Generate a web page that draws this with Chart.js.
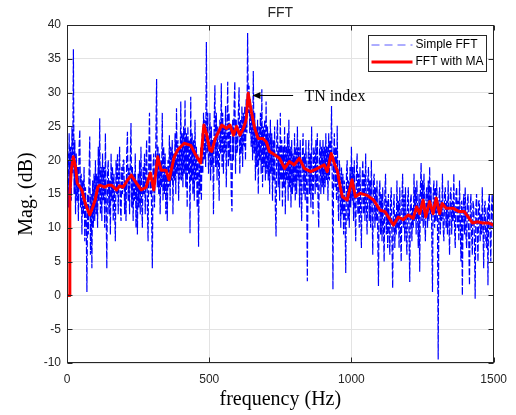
<!DOCTYPE html>
<html>
<head>
<meta charset="utf-8">
<title>FFT</title>
<script src="https://cdn.jsdelivr.net/npm/chart.js@4.4.1/dist/chart.umd.min.js"></script>
<style>
  body { margin: 0; background: #fff; }
  #wrap { width: 516px; height: 415px; }
</style>
</head>
<body>
<div id="wrap"><canvas id="fftChart"></canvas></div>
<script>
// Simple FFT magnitude (dB), one value every 2.5 Hz from 0 to 1500 Hz (40 per row = 100 Hz)
const fftStep = 2.5;
const fftMag = [
  15, 21, 13, 24, 16, 22, 14, 25, 18, 36.4, 15, 23, 12, 21, 14, 19, 11, 22, 24.5, 13,
  18, 9, 17, 12, 19, 8, 16, 11, 0.5, 15, 9, 18, 23.5, 6, 15, 4, 17, 10, 18, 11,
  20, 12, 18, 10, 22, 14, 26.2, 12, 19, 11, 21, 14, 19, 10, 24, 13, 4, 18, 20, 12,
  17, 9, 21, 14, 19, 11, 18, 13, 8, 20, 15, 21, 12, 18, 22, 13, 11, 19, 15, 20,
  20, 12, 17, 11, 21, 24.2, 14, 19, 12, 20, 25.5, 13, 19, 11, 18, 14, 21, 10, 17, 9,
  18, 13, 20, 12, 22, 14, 10, 19, 15, 21, 12, 19, 23, 13, 8, 20, 27, 15, 21, 12,
  4, 19, 21, 13, 18, 23, 32, 16, 22, 15, 21, 12, 20, 16, 27, 14, 22, 15, 21, 12,
  19, 11, 20, 16, 23.7, 14, 22, 17, 23, 12, 21, 17, 24, 15, 27.7, 18, 23, 14, 22, 17,
  28.7, 17, 24, 16, 25, 18, 28.9, 16, 24, 13, 25, 18, 23, 9.2, 29.4, 17, 24, 15, 23, 14,
  26, 17, 22, 13, 21, 7.2, 20, 15, 22, 14, 24, 18, 27, 20, 26, 19, 37.5, 21, 27, 18,
  21, 27, 17, 25, 19, 23, 12, 26, 31.1, 19, 27, 17, 25, 20, 14, 26, 21, 31.4, 19, 27,
  18, 25, 21, 28, 16, 24, 31.6, 19, 27, 20, 25, 15, 12.4, 26, 20, 28, 31.6, 18, 26, 21,
  22, 27, 30.8, 18, 26, 21, 28, 19, 27, 22, 28, 20, 29, 24, 38.8, 27, 31, 24, 29, 22,
  27, 20, 33.2, 21, 27, 17, 25, 19, 26, 15, 25, 20, 27, 18, 30.5, 16, 25, 19, 26, 17,
  28.7, 18, 25, 17, 24, 15, 26, 18, 24, 14, 23, 17, 25, 13, 8.7, 23, 26, 16, 22, 14,
  27, 17, 23, 13, 22, 16, 25, 12, 22, 17, 24, 14, 26, 16, 22, 13, 23, 15, 21, 16,
  24, 14, 22, 15, 25, 17, 22, 13, 23, 16, 11, 21, 24, 15, 21, 14, 23, 16, 2.1, 20,
  23, 15, 21, 13, 25, 16, 12, 22, 21, 15, 23, 16, 24, 14, 10, 21, 23, 15, 22, 16,
  23, 15, 22, 16, 24, 17, 22, 14, 24, 17, 23, 19, 28, 17, 0.9, 21, 24, 16, 22, 14,
  25.1, 15, 11, 20, 18, 10, 19, 12, 18, 9, 17, 12, 3.3, 18, 20, 11, 17, 10, 19, 13,
  22, 14, 19, 11, 20, 13, 8, 18, 21, 12, 18, 10, 19, 13, 7, 17, 20, 12, 18, 11,
  21, 13, 9, 17, 19, 11, 17, 10, 20, 13, 6, 17, 18, 10, 16, 11, 17, 9, 1.4, 15,
  17, 9, 15, 8, 16, 10, 5, 15, 18, 9, 14, 7, 15, 10, 6, 14, 16, 8, 1.1, 13,
  15, 7, 12, 9, 17, 10, 14, 7, 16, 9, 5, 14, 18, 10, 15, 8, 16, 9, 6, 14,
  16, 9, 2, 14, 15, 8, 13, 10, 18, 11, 16, 9, 17, 12, 7, 15, 3.5, 16, 19.6, 11,
  17, 10, 18, 12, 8, 15, 16, 10, 17, 11, 19, 12, 16, 9, 0.5, 15, 17, 10, 16, 11,
  17, 11, -9.5, 14, 16, 9, 14, 11, 18, 10, 8, 15, 16, 10, 14, 9, 17, 11, 6, 15,
  16, 9, 14, 11, 18, 10, 7, 15, 16, 10, 14, 8, 17, 11, 5, 14, 0, 13, 15, 9,
  16, 9, 7, 14, 15, 8, 1.5, 13, 15, 9, 6, 14, 13, 8, -0.5, 13, 15, 9, 5, 14,
  14, 8, 12, 9, 16, 10, 4, 13, 14, 8, 7, 13, 1.5, 14, 15, 9, 5, 13, 15, 10,
  11
];

// FFT with moving average
const maFreq = [0, 8, 10, 15, 22, 30, 36, 52, 65, 80, 90, 99, 108, 115, 132, 145, 157, 174, 185, 197,
  212, 226, 244, 261, 278, 293, 305, 319, 331, 348, 359, 377, 389, 412, 435, 452, 470, 481, 490, 502,
  509, 521, 544, 561, 573, 585, 596, 608, 620, 630, 637, 648, 660, 672, 689, 701, 712, 730, 747, 765,
  782, 799, 817, 834, 857, 881, 904, 915, 929, 940, 950, 961, 968, 985, 1002, 1014, 1031, 1055, 1078, 1101,
  1118, 1130, 1148, 1165, 1182, 1200, 1217, 1229, 1240, 1252, 1261, 1275, 1287, 1298, 1310, 1319, 1333, 1356, 1379, 1397,
  1414, 1426, 1443, 1461, 1484, 1500];
const maMag = [0, 0, 15, 18.5, 20.5, 19, 16.6, 15.6, 13.5, 11.9, 13, 14.1, 16, 16.3, 16, 16.3, 16.3, 15.6, 16.2, 16,
  17, 17.8, 16.6, 15.6, 16, 18.1, 15.6, 20.5, 18.5, 18.5, 17.1, 20.5, 21.5, 22.5, 22.2, 20.8, 19.6, 25.2, 24, 21.5,
  21.3, 23.2, 25.2, 24.7, 25.2, 23.7, 25, 23.7, 24.7, 26, 29.9, 27.2, 24.7, 23.2, 23.2, 22.7, 21.3, 20.8, 20.3, 18.8,
  19.8, 19.3, 20.3, 18.8, 18.3, 18.8, 19.3, 18.3, 21, 19.5, 18.5, 16, 14.6, 14.1, 17.1, 14.6, 15.1, 14.8, 14.1, 12.6,
  12.4, 11.6, 10.4, 11.6, 11.2, 11.9, 11.4, 13.1, 12.1, 14.1, 11.6, 13.9, 12.1, 14.4, 12.1, 13.6, 12.9, 12.9, 12.4, 12.4,
  11.4, 10.7, 10.9, 10.7, 10.7, 10.4];

const xRange = [0, 1500];
const yRange = [-10, 40];
const xTickStep = 500;
const yTickStep = 5;

// TN index arrow: tip at the MA peak, tail and label to the right
const tnTip = [652, 29.6];
const tnTail = [795, 29.6];
const tnLabelX = 835;

const sansFont = '"Liberation Sans", Arial, sans-serif';
const serifFont = '"Liberation Serif", "Times New Roman", serif';

const fftPoints = fftMag.map((v, i) => ({ x: i * fftStep, y: v }));
const maPoints = maFreq.map((f, i) => ({ x: f, y: maMag[i] }));

const decorations = {
  id: "decorations",
  afterDatasetsDraw(chart) {
    const { ctx, chartArea: a, scales } = chart;
    const xs = scales.x;
    const ys = scales.y;
    const L = Math.round(a.left) + 0.5;
    const R = Math.round(a.right) - 0.5;
    const T = Math.round(a.top) + 0.5;
    const B = Math.round(a.bottom) - 0.5;

    ctx.save();
    // box + inward ticks
    ctx.strokeStyle = "#262626";
    ctx.lineWidth = 1;
    ctx.strokeRect(L, T, R - L, B - T);
    ctx.beginPath();
    for (let v = yRange[0]; v <= yRange[1]; v += yTickStep) {
      const py = Math.round(ys.getPixelForValue(v)) + 0.5;
      ctx.moveTo(L, py); ctx.lineTo(L + 5, py);
      ctx.moveTo(R, py); ctx.lineTo(R - 5, py);
    }
    for (let v = xRange[0]; v <= xRange[1]; v += xTickStep) {
      const px = Math.round(xs.getPixelForValue(v)) + 0.5;
      ctx.moveTo(px, B); ctx.lineTo(px, B - 5);
      ctx.moveTo(px, T); ctx.lineTo(px, T + 5);
    }
    ctx.stroke();

    // title
    ctx.fillStyle = "#262626";
    ctx.font = "14px " + sansFont;
    ctx.textAlign = "center";
    ctx.textBaseline = "middle";
    ctx.fillText("FFT", (a.left + a.right) / 2, 13);

    // axis titles
    ctx.fillStyle = "#000";
    ctx.font = "20px " + serifFont;
    ctx.fillText("frequency (Hz)", (a.left + a.right) / 2, 400);
    ctx.save();
    ctx.translate(27, (a.top + a.bottom) / 2);
    ctx.rotate(-Math.PI / 2);
    ctx.fillText("Mag. (dB)", 0, 0);
    ctx.restore();

    // legend
    const lx = 368.5, ly = 35.5, lw = 118, lh = 36;
    ctx.fillStyle = "#fff";
    ctx.fillRect(lx, ly, lw, lh);
    ctx.strokeStyle = "#262626";
    ctx.strokeRect(lx, ly, lw, lh);
    ctx.beginPath();
    ctx.setLineDash([8, 5]);
    ctx.strokeStyle = "#5a5aff";
    ctx.moveTo(lx + 3, 45); ctx.lineTo(lx + 44, 45);
    ctx.stroke();
    ctx.setLineDash([]);
    ctx.beginPath();
    ctx.strokeStyle = "#ff0000";
    ctx.lineWidth = 3;
    ctx.moveTo(lx + 3, 62); ctx.lineTo(lx + 44, 62);
    ctx.stroke();
    ctx.fillStyle = "#000";
    ctx.font = "12px " + sansFont;
    ctx.textAlign = "left";
    ctx.fillText("Simple FFT", lx + 47, 45);
    ctx.fillText("FFT with MA", lx + 47, 62);

    // TN index annotation
    const tipX = xs.getPixelForValue(tnTip[0]);
    const tipY = Math.round(ys.getPixelForValue(tnTip[1])) + 0.5;
    const tailX = xs.getPixelForValue(tnTail[0]);
    ctx.strokeStyle = "#000";
    ctx.lineWidth = 1;
    ctx.beginPath();
    ctx.moveTo(tailX, tipY); ctx.lineTo(tipX + 6, tipY);
    ctx.stroke();
    ctx.beginPath();
    ctx.moveTo(tipX, tipY);
    ctx.lineTo(tipX + 8, tipY - 3.5);
    ctx.lineTo(tipX + 8, tipY + 3.5);
    ctx.closePath();
    ctx.fillStyle = "#000";
    ctx.fill();
    ctx.font = "16px " + serifFont;
    ctx.textBaseline = "middle";
    ctx.fillText("TN index", xs.getPixelForValue(tnLabelX), tipY + 1);
    ctx.restore();
  },
};

new Chart(document.getElementById("fftChart"), {
  type: "line",
  data: {
    datasets: [
      {
        label: "Simple FFT",
        data: fftPoints,
        borderColor: "#0000ff",
        borderWidth: 1.2,
        borderDash: [7, 2],
        borderJoinStyle: "bevel",
        pointRadius: 0,
        tension: 0,
        order: 1,
      },
      {
        label: "FFT with MA",
        data: maPoints,
        borderColor: "#ff0000",
        borderWidth: 3,
        borderJoinStyle: "round",
        pointRadius: 0,
        tension: 0,
        order: 0,
      },
    ],
  },
  options: {
    responsive: true,
    maintainAspectRatio: false,
    animation: false,
    events: [],
    layout: { padding: { top: 25, right: 18, left: 0, bottom: 0 } },
    plugins: {
      legend: { display: false },
      title: { display: false },
      tooltip: { enabled: false },
    },
    scales: {
      x: {
        type: "linear",
        min: xRange[0],
        max: xRange[1],
        ticks: {
          stepSize: xTickStep,
          color: "#262626",
          padding: 9,
          maxRotation: 0,
          font: { family: sansFont, size: 12 },
          callback: (v) => String(v),
        },
        grid: { color: "#e3e3e3", drawTicks: false },
        border: { display: false },
        afterFit: (s) => { s.height = 52; },
      },
      y: {
        min: yRange[0],
        max: yRange[1],
        ticks: {
          stepSize: yTickStep,
          color: "#262626",
          padding: 6,
          font: { family: sansFont, size: 12 },
        },
        grid: { color: "#e3e3e3", drawTicks: false },
        border: { display: false },
        afterFit: (s) => { s.width = 67; },
      },
    },
  },
  plugins: [decorations],
});
</script>
</body>
</html>
